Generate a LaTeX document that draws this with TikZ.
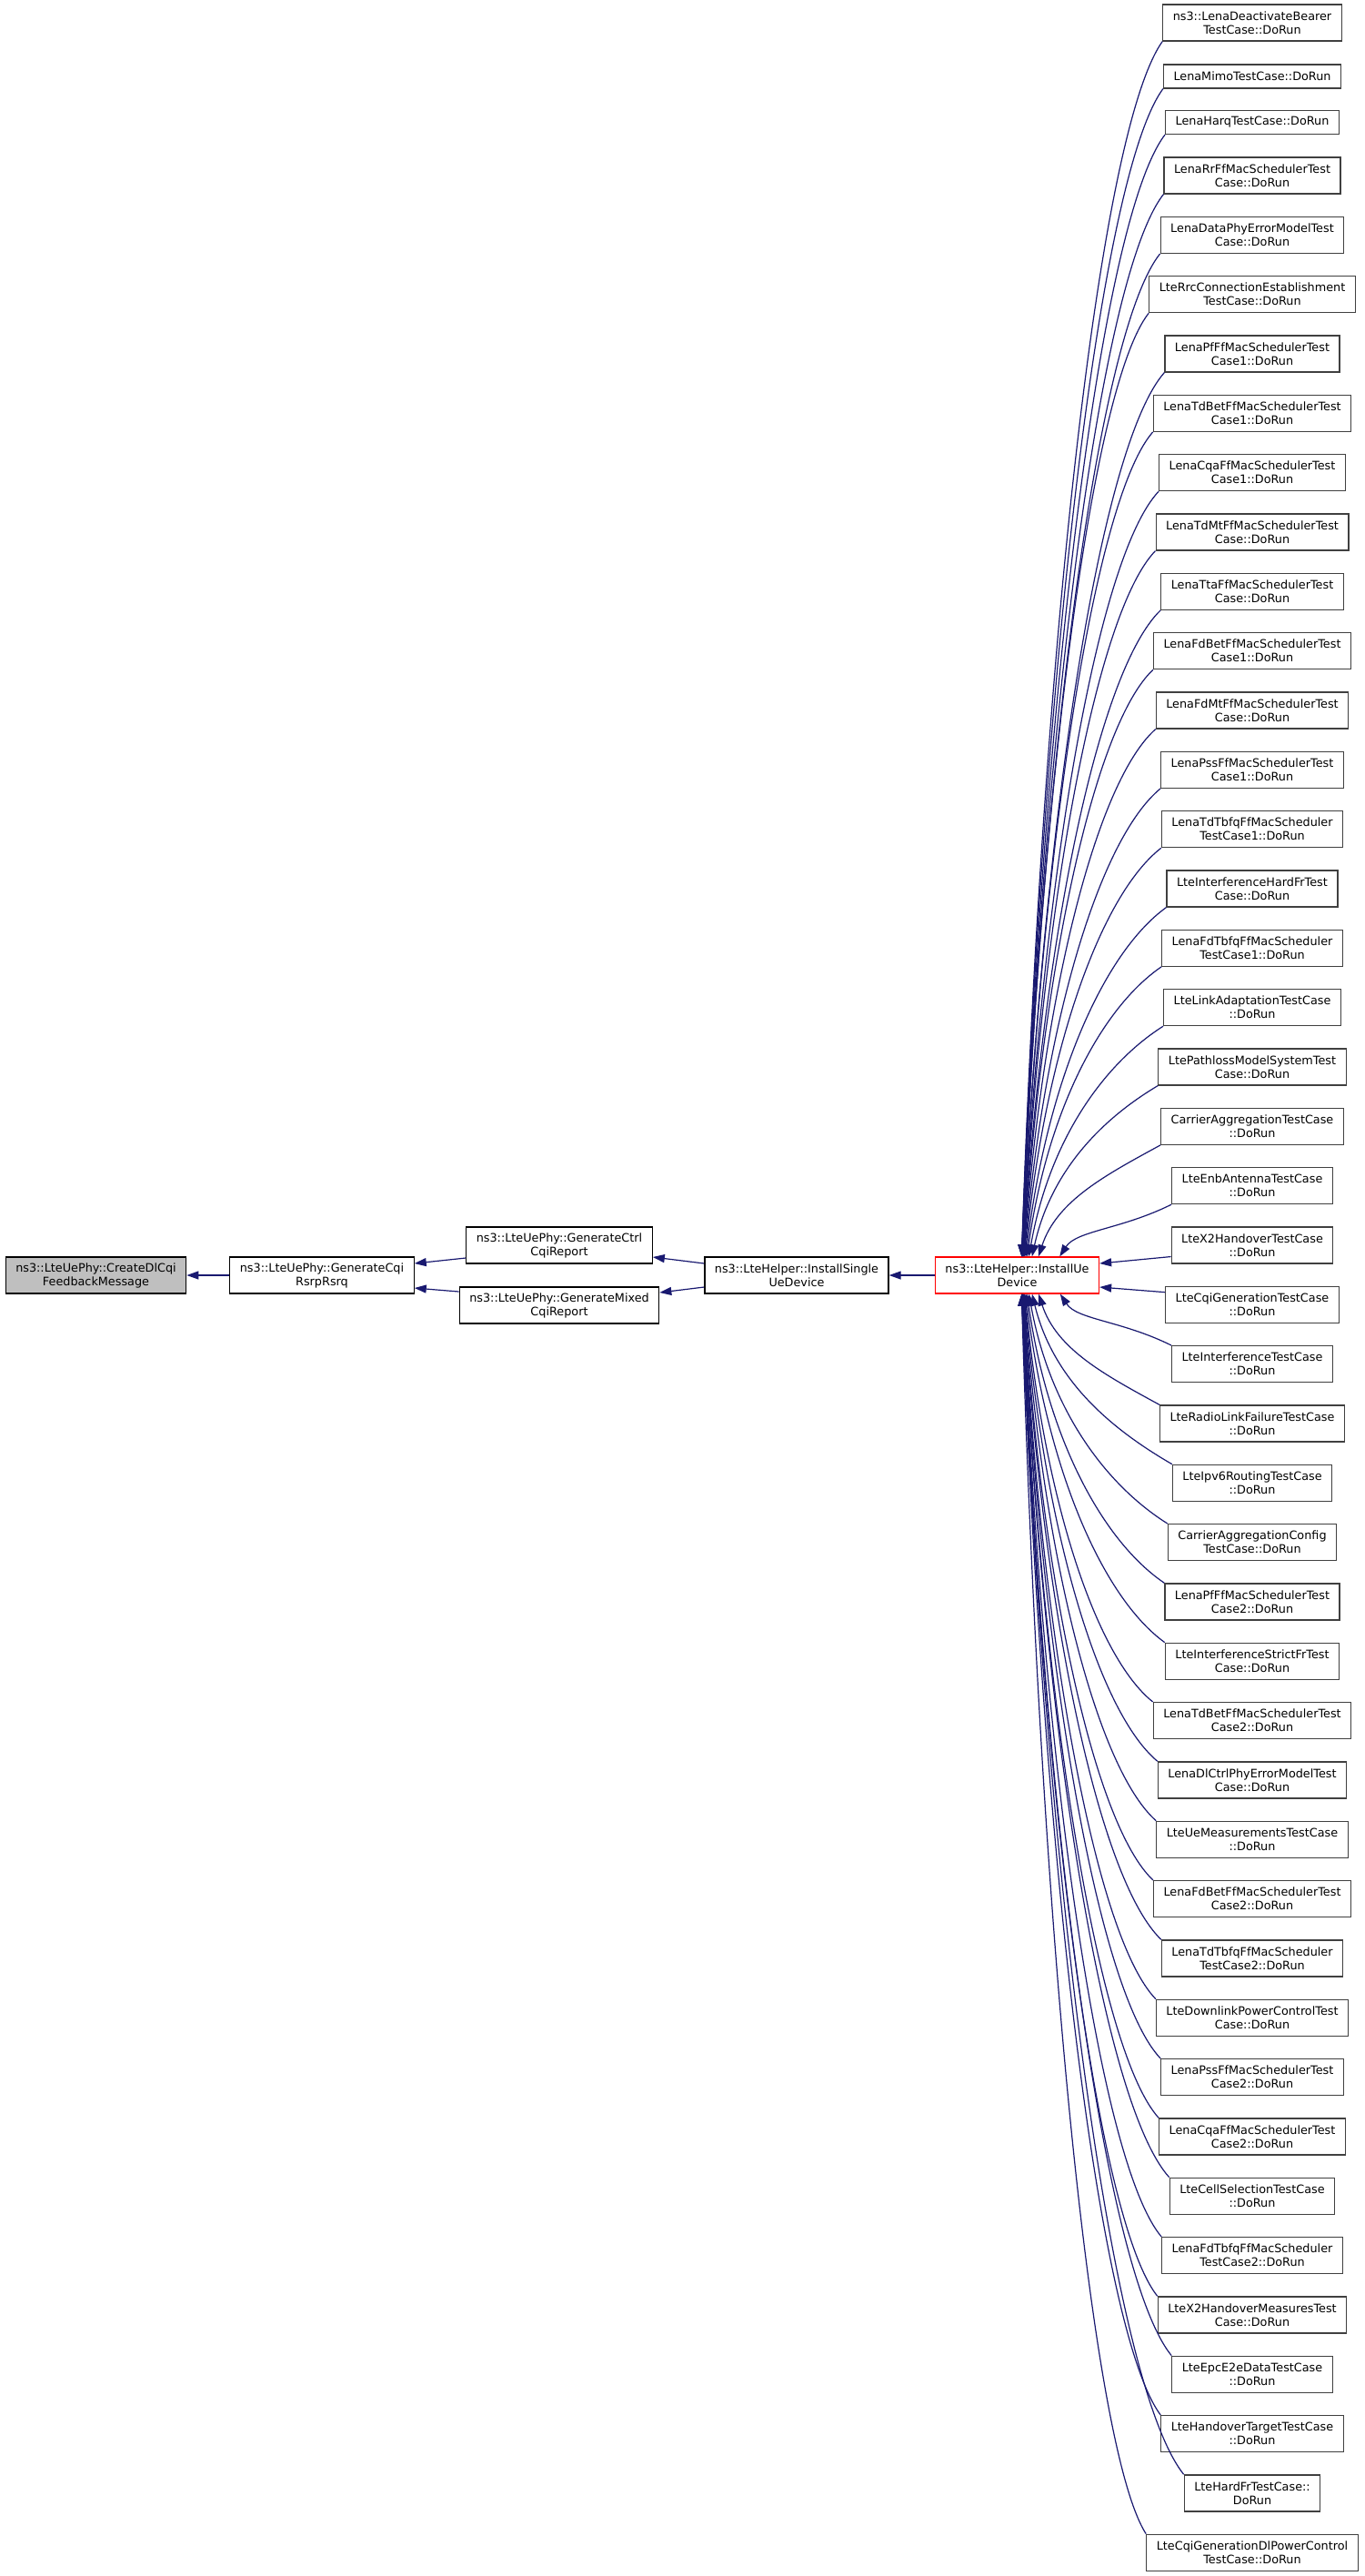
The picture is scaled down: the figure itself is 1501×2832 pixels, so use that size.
\documentclass[tikz,border=0pt]{standalone}
\usepackage{fontspec}
\setmainfont{DejaVu Sans}
\usetikzlibrary{arrows.meta,calc}
\definecolor{edgeblue}{HTML}{191970}
\definecolor{boxline}{HTML}{404040}
\definecolor{callergrey}{HTML}{BFBFBF}

\begin{document}
\begin{tikzpicture}[x=1pt,y=1pt,
	fn/.style={draw=boxline,line width=1.2pt,fill=white,align=center,inner xsep=11pt,inner ysep=0pt,
		minimum height=40pt,font=\fontsize{12.8}{15}\selectfont},
	fnone/.style={fn,minimum height=26pt},
	chain/.style={fn,draw=black},
	edge/.style={draw=edgeblue,line width=1.2pt,-{Triangle[length=13pt,width=9pt]}}]
	\fill[white] (0,0) rectangle (1501,-2832);
	\useasboundingbox (0,0) rectangle (1501,-2832);

	\node[chain,fill=callergrey] (create) at (105.5,-1402) {ns3::LteUePhy::CreateDlCqi\\FeedbackMessage};
	\node[chain] (cqi) at (354,-1402) {ns3::LteUePhy::GenerateCqi\\RsrpRsrq};
	\node[chain] (ctrl) at (615,-1369) {ns3::LteUePhy::GenerateCtrl\\CqiReport};
	\node[chain] (mixed) at (615,-1435) {ns3::LteUePhy::GenerateMixed\\CqiReport};
	\node[chain] (single) at (876,-1402) {ns3::LteHelper::InstallSingle\\UeDevice};
	\node[chain,draw=red] (ue) at (1118.5,-1402) {ns3::LteHelper::InstallUe\\Device};

	\node[fnone] (r2) at (1377,-84) {LenaMimoTestCase::DoRun};
	\node[fnone] (r3) at (1377,-134.5) {LenaHarqTestCase::DoRun};
	\foreach \k/\la/\lb in {1/ns3::LenaDeactivateBearer/TestCase::DoRun,
		4/LenaRrFfMacSchedulerTest/Case::DoRun,
		5/LenaDataPhyErrorModelTest/Case::DoRun,
		6/LteRrcConnectionEstablishment/TestCase::DoRun,
		7/LenaPfFfMacSchedulerTest/Case1::DoRun,
		8/LenaTdBetFfMacSchedulerTest/Case1::DoRun,
		9/LenaCqaFfMacSchedulerTest/Case1::DoRun,
		10/LenaTdMtFfMacSchedulerTest/Case::DoRun,
		11/LenaTtaFfMacSchedulerTest/Case::DoRun,
		12/LenaFdBetFfMacSchedulerTest/Case1::DoRun,
		13/LenaFdMtFfMacSchedulerTest/Case::DoRun,
		14/LenaPssFfMacSchedulerTest/Case1::DoRun,
		15/LenaTdTbfqFfMacScheduler/TestCase1::DoRun,
		16/LteInterferenceHardFrTest/Case::DoRun,
		17/LenaFdTbfqFfMacScheduler/TestCase1::DoRun,
		18/LteLinkAdaptationTestCase/::DoRun,
		19/LtePathlossModelSystemTest/Case::DoRun,
		20/CarrierAggregationTestCase/::DoRun,
		21/LteEnbAntennaTestCase/::DoRun,
		22/LteX2HandoverTestCase/::DoRun,
		23/LteCqiGenerationTestCase/::DoRun,
		24/LteInterferenceTestCase/::DoRun,
		25/LteRadioLinkFailureTestCase/::DoRun,
		26/LteIpv6RoutingTestCase/::DoRun,
		27/CarrierAggregationConfig/TestCase::DoRun,
		28/LenaPfFfMacSchedulerTest/Case2::DoRun,
		29/LteInterferenceStrictFrTest/Case::DoRun,
		30/LenaTdBetFfMacSchedulerTest/Case2::DoRun,
		31/LenaDlCtrlPhyErrorModelTest/Case::DoRun,
		32/LteUeMeasurementsTestCase/::DoRun,
		33/LenaFdBetFfMacSchedulerTest/Case2::DoRun,
		34/LenaTdTbfqFfMacScheduler/TestCase2::DoRun,
		35/LteDownlinkPowerControlTest/Case::DoRun,
		36/LenaPssFfMacSchedulerTest/Case2::DoRun,
		37/LenaCqaFfMacSchedulerTest/Case2::DoRun,
		38/LteCellSelectionTestCase/::DoRun,
		39/LenaFdTbfqFfMacScheduler/TestCase2::DoRun,
		40/LteX2HandoverMeasuresTest/Case::DoRun,
		41/LteEpcE2eDataTestCase/::DoRun,
		42/LteHandoverTargetTestCase/::DoRun,
		43/LteHardFrTestCase::/DoRun,
		44/LteCqiGenerationDlPowerControl/TestCase::DoRun}{
		\pgfmathsetmacro\yk{\k==1 ? 25 : 193+(\k-4)*65.33}
		\node[fn] (r\k) at (1377,-\yk) {\la\\\lb};
	}

	\draw[edge] (ue) -- (single);
	\draw[edge] ([yshift=13pt]single.west) -- ([yshift=-13pt]ctrl.east);
	\draw[edge] ([yshift=-13pt]single.west) -- ([yshift=14pt]mixed.east);
	\draw[edge] ([yshift=-14pt]ctrl.west) -- ([yshift=13pt]cqi.east);
	\draw[edge] ([yshift=15pt]mixed.west) -- ([yshift=-14pt]cqi.east);
	\draw[edge] (cqi) -- (create);

	\foreach \k in {1,...,21}
		\draw[edge] let \p1=(r\k.south west), \p2=(ue.north), \n1={\y1-\y2}, \n2={3+2500/\n1}, \n3={\x1-\x2-\n2} in
			(\p1) .. controls +(-0.45*\n3,-0.05*\n1-0.2*\n3) and +(0.15*\n3,0.5*\n1) .. ([xshift=\n2]ue.north);
	\draw[edge] ([yshift=8pt]r22.south west) -- ([yshift=13pt]ue.east);
	\draw[edge] ([yshift=-7pt]r23.north west) -- ([yshift=-13pt]ue.east);
	\foreach \k in {24,...,44}
		\draw[edge] let \p1=(r\k.north west), \p2=(ue.south), \n1={\y2-\y1}, \n2={3+2500/\n1}, \n3={\x1-\x2-\n2} in
			(\p1) .. controls +(-0.45*\n3,0.05*\n1+0.2*\n3) and +(0.15*\n3,-0.5*\n1) .. ([xshift=\n2]ue.south);
\end{tikzpicture}
\end{document}
